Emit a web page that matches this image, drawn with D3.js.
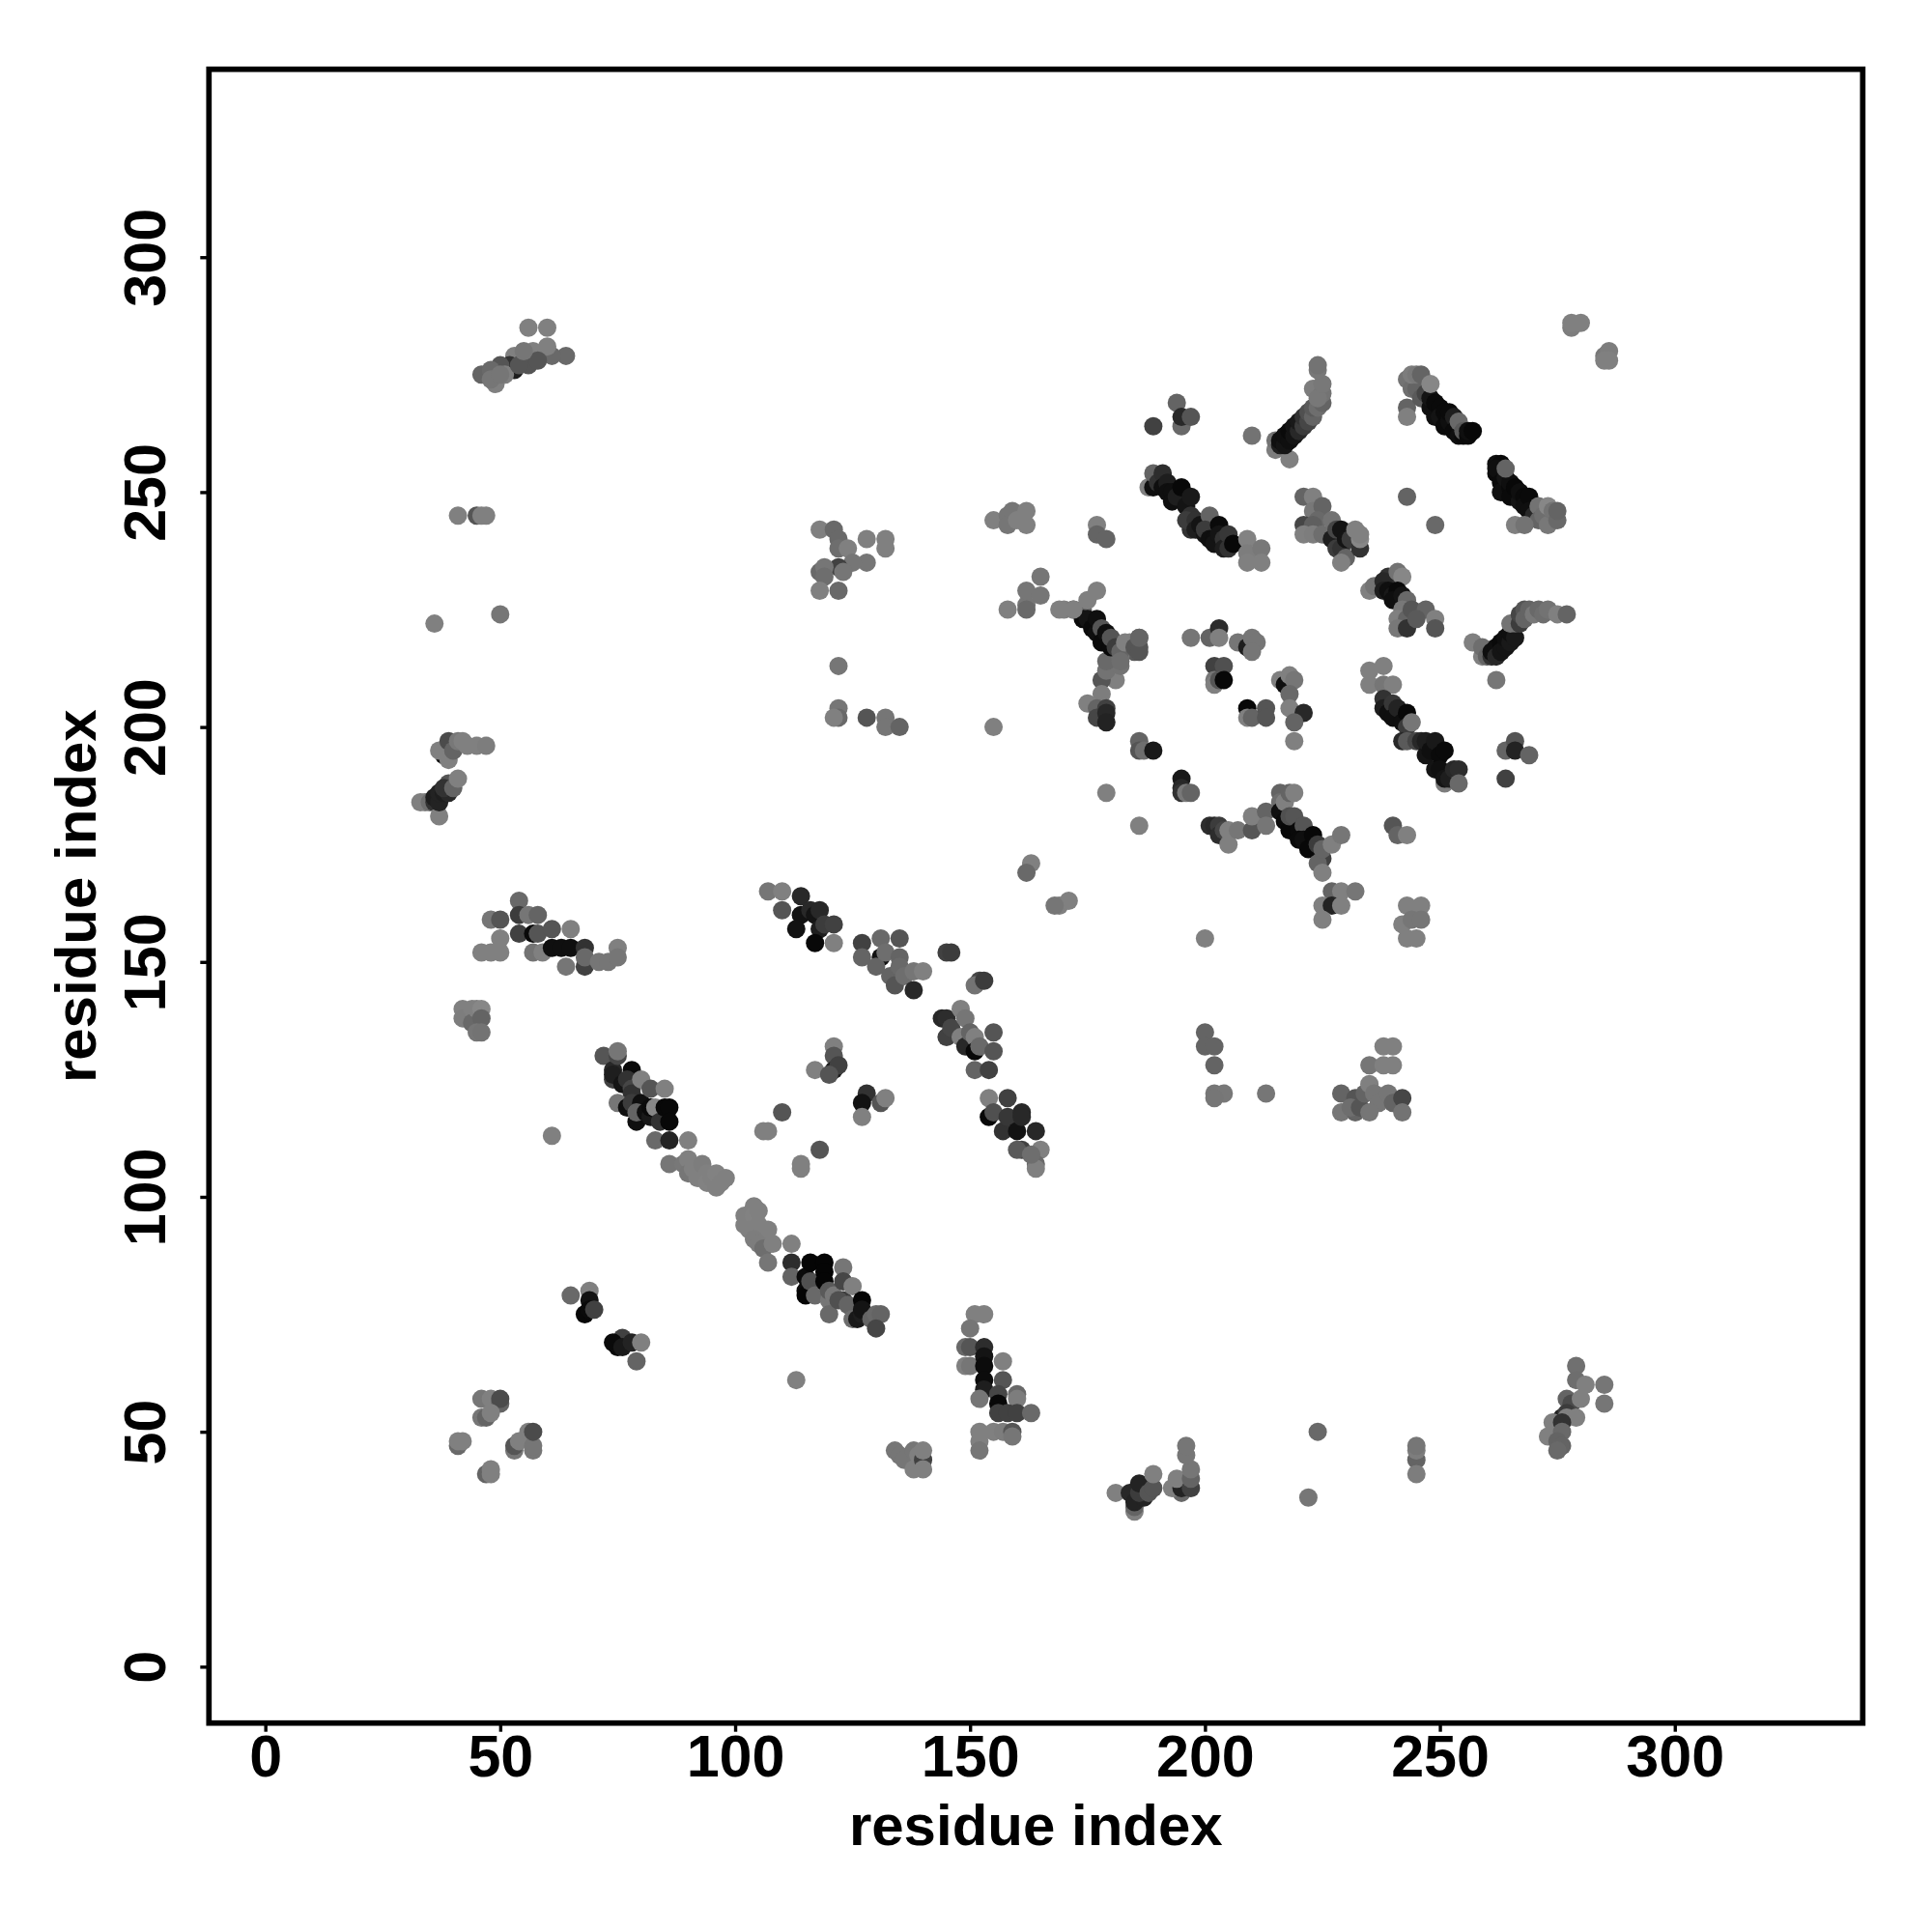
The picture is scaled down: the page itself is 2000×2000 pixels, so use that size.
<!DOCTYPE html>
<html><head><meta charset="utf-8"><style>html,body{margin:0;background:#fff}</style>
<script src="https://cdnjs.cloudflare.com/ajax/libs/d3/7.8.5/d3.min.js"></script></head><body><div id="c"></div>
<script>
// each contact: [residue x, residue y, grey level]
const topRight=[[278,285,125],[278,286,128],[280,286,128],[285,279,120],[286,280,125],[285,278,128],[286,278,128]];
const isoA=[[189,264,65],[194,269,100],[195,264,105],[195,266,40],[197,266,85],[210,262,115]];
const bandA=[[215,259,125],[218,257,128],[215,261,115],[216,260,30],[216,261,15],[217,260,20],[217,262,15],[218,261,15],[218,263,10],[219,262,20],[219,264,20],[220,263,40],[220,265,25],[221,264,60],[221,266,50],[222,265,70],[222,267,80],[223,266,100],[223,268,90],[224,268,110],[223,272,125],[225,269,100],[225,271,115],[224,270,120],[225,273,120],[224,276,120],[224,277,115]];
const bandB=[[243,268,100],[243,266,128],[243,274,115],[244,272,110],[245,272,100],[246,270,90],[244,275,125],[245,275,120],[246,275,100],[247,271,70],[248,268,15],[248,270,20],[249,266,15],[249,269,10],[250,268,10],[250,266,20],[251,267,10],[251,264,10],[252,265,15],[252,267,10],[253,266,30],[253,263,10],[254,262,15],[254,265,105],[255,262,10],[255,263,90],[256,262,10],[256,263,15],[257,263,8],[248,273,135]];
const bandC=[[262,256,15],[263,256,8],[262,254,10],[262,255,15],[263,252,10],[263,250,15],[264,253,20],[265,251,10],[265,252,15],[265,249,10],[266,251,8],[264,255,100],[267,248,20],[267,250,15],[268,249,10],[268,247,15],[269,249,10],[269,246,15],[270,245,40],[271,247,115],[271,244,100],[272,245,110],[273,247,135],[273,243,120],[274,246,115],[275,244,105],[275,246,100],[266,243,128],[268,243,115],[243,249,100],[249,243,105]];
const bandD=[[188,251,128],[189,251,15],[189,254,100],[190,252,50],[191,254,45],[191,251,15],[192,252,30],[192,250,15],[193,250,15],[193,248,15],[194,249,30],[195,251,8],[196,247,20],[197,249,25],[197,245,50],[197,242,50],[196,244,60],[198,244,50],[198,242,30],[199,243,20],[200,241,20],[201,245,100],[200,242,60],[201,240,15],[202,240,15],[202,239,20],[203,243,10],[203,241,20],[204,240,50],[204,238,30],[205,241,55],[205,238,50],[206,239,8],[209,240,130],[209,237,125],[209,235,128],[212,238,120],[212,235,128]];
const clusterE=[[177,243,128],[177,241,100],[179,240,100],[221,249,100],[223,249,128],[223,246,120],[225,247,100],[224,244,105],[221,243,70],[223,243,95],[221,241,128],[223,241,125],[225,241,110],[227,244,115],[227,240,30],[228,242,70],[228,238,60],[229,242,20],[229,238,50],[230,240,20],[230,236,100],[229,235,128],[231,240,60],[233,238,50],[232,242,128],[233,240,135],[233,241,128]];
const clusterF=[[235,229,128],[236,230,115],[239,232,50],[238,231,40],[241,233,115],[242,232,135],[238,229,30],[239,229,15],[240,228,25],[241,229,10],[240,227,15],[242,228,20],[243,227,105],[242,225,120],[241,223,128],[243,223,100],[241,221,120],[243,221,50],[244,225,85],[247,225,100],[245,223,90],[249,223,128],[249,221,85]];
const bandG=[[257,218,128],[259,215,128],[259,217,110],[260,215,100],[261,215,50],[261,216,15],[262,217,15],[262,215,40],[263,218,10],[263,216,20],[264,217,20],[264,219,15],[265,218,25],[265,220,15],[266,219,25],[266,222,85],[265,222,115],[267,222,60],[267,224,70],[268,225,85],[268,223,100],[269,225,100],[270,224,120],[271,225,105],[272,224,110],[273,225,115],[275,224,128],[277,224,100]];
const clusterH=[[197,219,118],[201,219,100],[203,221,45],[203,219,128],[207,218,118],[209,217,30],[210,219,118],[211,218,118],[210,216,118],[202,213,65],[204,213,80],[202,210,118],[202,209,128],[203,210,85],[204,210,8],[216,210,128],[217,209,15],[218,211,128],[219,210,118],[218,207,105],[218,204,128],[221,203,40],[219,201,100],[219,197,128],[209,204,8],[209,202,128],[210,202,100],[213,204,85],[213,202,85]];
const clusterI=[[181,210,128],[178,210,85],[179,212,115],[182,213,115],[179,214,105],[186,219,100],[186,217,85],[185,216,90],[182,215,118],[182,217,100],[178,207,125],[175,205,128],[177,204,100],[177,202,70],[179,204,65],[179,203,40],[179,201,35]];
const bandJ=[[170,225,128],[172,225,100],[174,225,100],[175,227,128],[177,229,128],[174,223,10],[175,223,20],[176,221,10],[177,223,15],[177,220,15],[178,221,85],[178,218,10],[179,220,15],[180,217,10],[180,219,85],[181,217,60],[182,216,100],[182,214,110],[183,218,128],[184,218,128],[185,217,85],[186,216,85],[186,219,100]];
const isoK=[[186,197,100],[186,195,85],[187,195,110],[189,195,25],[195,189,25],[195,187,40],[195,186,50],[196,186,120],[197,186,100],[179,186,128],[186,179,128]];
const bandL=[[201,179,45],[202,179,40],[203,179,60],[203,177,45],[204,178,70],[205,178,128],[205,175,128],[207,178,118],[210,178,85],[210,181,128],[213,182,100],[213,179,118],[216,186,100],[216,184,110],[216,182,15],[217,184,128],[218,186,100],[219,186,128],[217,180,10],[218,178,8],[218,181,80],[219,181,85],[220,178,10],[221,179,85],[220,176,10],[221,176,15],[222,174,8],[223,177,8],[224,175,60],[225,172,65],[224,171,100],[225,169,128],[225,174,100],[227,175,128],[229,177,118]];
const isoM=[[240,179,85],[241,177,100],[243,177,128],[227,165,100],[229,165,128],[232,165,118],[225,162,128],[227,162,35],[229,162,128],[225,159,128],[243,162,128],[246,162,128],[245,161,128],[242,158,128],[244,159,118],[246,159,118],[243,155,128],[245,155,128],[200,155,128],[169,162,128],[171,163,128]];
const isoN=[[200,135,100],[200,132,100],[202,132,100],[202,128,100],[202,122,118],[204,122,120],[202,121,118],[213,122,118],[238,132,128],[240,132,128],[235,128,118],[238,128,128],[240,128,128],[229,122,100],[229,118,118],[232,121,85],[232,118,100],[231,119,110],[233,119,85],[234,122,100],[235,124,128],[236,122,118],[237,120,118],[239,122,118],[240,120,100],[242,121,70],[242,118,115],[235,118,118]];
const isoO=[[264,189,65],[264,195,100],[266,197,85],[266,195,35],[269,194,100],[262,210,118]];
const bandP=[[235,212,128],[238,213,128],[235,209,128],[238,209,118],[240,209,128],[238,206,50],[238,204,30],[239,203,15],[240,205,55],[240,202,15],[241,204,35],[242,201,15],[243,203,8],[243,200,60],[244,201,118],[242,197,40],[243,197,90],[245,197,70],[246,197,40],[247,194,20],[247,197,30],[248,195,15],[249,197,25],[249,191,20],[250,194,10],[251,195,10],[250,191,15],[251,188,125],[251,189,20],[252,189,30],[253,191,40],[254,191,45],[254,188,105]];
const clusterQ=[[54,163,105],[48,159,118],[50,159,85],[54,160,60],[56,160,118],[58,160,100],[50,155,128],[54,156,65],[50,152,128],[46,152,128],[48,152,128],[57,156,10],[58,156,85],[61,157,85],[65,157,128],[57,152,115],[59,152,128],[61,153,15],[63,153,15],[65,153,15],[68,153,50],[64,149,118],[68,149,65],[68,151,105],[71,150,118],[73,150,118],[75,153,128],[75,151,118]];
const clusterR=[[42,140,128],[42,138,125],[44,140,128],[44,137,105],[45,140,128],[46,140,135],[46,138,100],[45,135,118],[46,135,115]];
const bandS=[[72,130,85],[74,127,40],[75,130,70],[75,131,118],[74,125,65],[74,126,30],[78,127,10],[76,124,20],[77,125,50],[78,123,70],[78,122,50],[75,120,118],[77,119,15],[78,120,60],[79,118,10],[80,125,128],[80,120,15],[82,123,85],[79,116,15],[79,118,100],[81,118,15],[82,117,25],[82,119,10],[83,119,135],[84,116,50],[85,123,128],[85,119,8],[86,119,8],[86,116,8],[83,112,105],[86,112,35],[90,112,128]];
const lightA=[[86,107,118],[89,107,120],[90,108,128],[90,105,118],[91,106,128],[92,104,128],[93,107,125],[94,105,128],[94,103,130],[95,104,128],[96,102,128],[96,105,130],[97,103,128],[98,104,128]];
const lightB=[[102,96,128],[103,95,128],[104,98,128],[102,94,128],[104,96,130],[105,97,128],[103,93,128],[105,94,128],[106,92,128],[107,93,128],[104,91,125],[105,90,125],[106,89,110],[108,90,128],[107,86,118],[112,90,128]];
const bandT=[[112,86,45],[112,83,100],[115,83,10],[115,80,10],[115,79,5],[116,86,5],[116,82,80],[117,79,105],[119,86,5],[119,84,5],[119,82,5],[120,78,118],[120,80,90],[121,79,120],[120,75,105],[123,85,118],[123,82,70],[123,78,60],[122,78,80],[124,77,100],[125,81,128],[125,74,110],[126,74,25],[127,78,5],[127,75,30],[127,76,20],[129,74,100],[130,75,105],[131,75,100],[130,72,70]];
const bandU=[[107,165,118],[110,165,128],[110,161,85],[114,164,40],[114,160,18],[113,157,18],[116,161,40],[117,160,20],[118,161,40],[118,157,30],[117,154,8],[119,158,60],[121,158,65],[121,154,128],[127,154,65],[127,151,100],[131,155,105],[131,151,18],[130,149,100],[132,152,110],[135,155,85],[135,151,100],[133,147,100],[135,149,105],[134,145,85],[136,147,110],[138,148,118],[138,144,40],[140,148,128]];
const isoV=[[145,152,65],[146,152,60],[152,146,70],[151,145,115],[153,146,60]];
const bandW=[[144,138,40],[145,138,45],[145,134,65],[146,136,70],[148,140,128],[148,134,128],[149,138,118],[149,132,40],[150,135,100],[151,134,128],[151,131,8],[152,132,105],[155,135,85],[155,131,85],[151,127,100],[154,127,65],[154,121,128],[154,117,8],[155,118,80],[157,114,50],[158,121,65],[158,117,55],[160,114,18],[161,118,40],[161,117,40],[161,110,65],[160,110,90],[164,114,40],[165,110,128],[164,107,105],[164,106,128],[163,109,110]];
const scatterX=[[121,132,128],[121,130,85],[121,127,30],[122,128,65],[117,127,128],[120,126,85],[128,122,50],[127,120,18],[131,120,85],[132,121,128],[127,117,128],[110,118,85],[106,114,128],[107,114,128],[118,110,85],[114,107,128],[114,106,128],[61,113,128],[163,171,128],[162,169,105],[168,162,118]];
const clusterY=[[65,79,105],[69,80,128],[69,78,18],[68,75,8],[69,76,10],[70,76,65],[76,70,65],[75,68,8],[74,69,10],[76,68,25],[78,69,35],[80,69,128],[79,65,100],[113,61,128]];
const clusterZ=[[151,75,128],[153,75,128],[150,72,118],[149,68,105],[150,68,85],[153,68,45],[149,64,128],[150,64,118],[153,66,20],[153,64,12],[157,65,128],[157,61,85],[153,61,12],[153,59,30],[152,57,118],[156,58,70],[156,56,8],[160,58,105],[160,57,125],[156,54,65],[158,54,65],[160,54,65],[163,54,105],[152,50,128],[152,48,128],[155,50,128],[157,50,125],[159,50,85],[159,49,118],[152,46,118]];
const clusterAA=[[134,46,118],[135,45,118],[136,44,118],[138,46,118],[138,42,128],[139,45,128],[140,44,65],[140,42,128],[140,46,128]];
const clusterAB=[[181,37,128],[185,33,128],[185,34,100],[184,37,40],[185,35,35],[187,36,35],[186,37,60],[186,39,35],[188,37,85],[189,38,85],[189,41,128],[195,37,105],[193,38,128],[195,38,35],[194,40,128],[197,38,65],[197,40,100],[197,42,118],[196,45,118],[196,47,118],[222,36,118],[224,50,105],[245,44,100],[245,46,125],[245,47,118],[245,41,125]];
const clusterAC=[[279,64,112],[279,61,110],[281,60,128],[285,60,118],[285,56,118],[277,57,100],[278,56,75],[280,57,128],[276,53,35],[277,54,60],[279,53,128],[277,53,128],[274,52,128],[273,49,128],[276,52,50],[276,50,105],[275,48,100],[276,47,100],[275,46,105]];
const clusterAD=[[41,47,105],[41,48,128],[42,48,128],[46,57,118],[48,57,128],[50,56,100],[50,57,75],[46,53,118],[47,53,100],[48,54,128],[47,41,100],[48,41,128],[48,42,128],[53,46,118],[53,47,85],[54,48,128],[56,50,128],[57,46,118],[57,47,118],[57,50,75]];
const clusterAE=[[56,285,128],[60,285,128],[64,279,105],[61,279,105],[60,281,128],[57,280,128],[56,277,85],[53,279,128],[53,276,30],[52,277,50],[50,277,85],[49,273,128],[46,275,100],[48,276,105],[51,275,128],[54,277,85],[58,278,85],[48,274,118],[50,275,118],[55,280,118],[41,245,128],[45,245,85],[46,245,128],[47,245,128],[36,222,128],[50,224,118]];
const clusterAF=[[33,184,128],[34,184,128],[35,184,110],[36,184,50],[37,181,128],[36,185,30],[37,184,35],[37,186,35],[38,186,30],[39,186,40],[39,188,85],[38,187,50],[40,187,100],[41,189,128],[38,194,15],[37,195,128],[39,193,128],[39,197,75],[40,195,100],[41,197,120],[42,197,128],[43,196,128],[45,196,128],[47,196,125]];
const clusterAG=[[118,242,128],[121,242,105],[122,240,105],[122,238,110],[124,238,128],[128,240,128],[132,240,128],[128,235,118],[125,235,118],[122,234,65],[123,233,118],[118,233,105],[119,234,118],[119,232,110],[132,238,128],[118,229,128],[122,229,105],[122,213,118],[122,204,118],[122,202,105],[121,202,128],[128,202,85],[132,202,118],[132,200,118],[135,200,100]];
const clusterAH=[[155,200,128],[155,244,128],[158,245,118],[158,243,118],[159,246,118],[162,246,128],[162,243,128],[160,244,128],[158,225,128],[162,226,118],[162,229,118],[162,225,105],[165,232,118],[165,228,118],[169,225,128],[172,225,128]];
const clusters=[topRight,isoA,bandA,bandB,bandC,bandD,clusterE,clusterF,bandG,clusterH,clusterI,bandJ,isoK,bandL,isoM,isoN,isoO,bandP,clusterQ,clusterR,bandS,lightA,lightB,bandT,bandU,isoV,bandW,scatterX,clusterY,clusterZ,clusterAA,clusterAB,clusterAC,clusterAD,clusterAE,clusterAF,clusterAG,clusterAH];
const tickVals=[0,50,100,150,200,250,300];
const axisTitle="residue index";
const W=2000,H=2000,L=216.3,R=1928.3,T=71.7,B=1783.7;
const font='"Liberation Sans",Arial,sans-serif';
const x=d3.scaleLinear().domain([-12,340]).range([L,R]);
const y=d3.scaleLinear().domain([-12,340]).range([B,T]);
const svg=d3.select('#c').append('svg').attr('width',W).attr('height',H).style('display','block');
svg.append('rect').attr('width',W).attr('height',H).attr('fill','#fff');
const grey=g=>d3.rgb(g,g,g).formatHex();
svg.append('g').selectAll('circle').data(clusters.flat()).join('circle')
 .attr('cx',d=>x(d[0])).attr('cy',d=>y(d[1])).attr('r',9.5).attr('fill',d=>grey(d[2]));
const ax=svg.append('g').attr('transform',`translate(0,${B})`).call(d3.axisBottom(x).tickValues(tickVals).tickSize(9).tickPadding(0));
const ay=svg.append('g').attr('transform',`translate(${L},0)`).call(d3.axisLeft(y).tickValues(tickVals).tickSize(9).tickPadding(0));
[ax,ay].forEach(a=>{a.select('.domain').remove();a.selectAll('line').attr('stroke','#000').attr('stroke-width',3.4);
 a.selectAll('text').attr('font-family',font).attr('font-weight','bold').attr('font-size',61).attr('fill','#000');});
ax.selectAll('text').attr('y',0).attr('dy',0).attr('text-anchor','middle').attr('transform','translate(0,55.5)');
ay.selectAll('text').attr('x',0).attr('dy',0).attr('text-anchor','middle').attr('transform','translate(-45.5,0) rotate(-90)');
svg.append('rect').attr('x',L).attr('y',T).attr('width',R-L).attr('height',B-T).attr('fill','none').attr('stroke','#000').attr('stroke-width',5.7);
svg.append('text').attr('x',(L+R)/2).attr('y',1910).attr('text-anchor','middle').attr('font-family',font).attr('font-weight','bold').attr('font-size',60).text(axisTitle);
svg.append('text').attr('transform',`translate(99,${(T+B)/2}) rotate(-90)`).attr('text-anchor','middle').attr('font-family',font).attr('font-weight','bold').attr('font-size',60).text(axisTitle);
</script></body></html>
